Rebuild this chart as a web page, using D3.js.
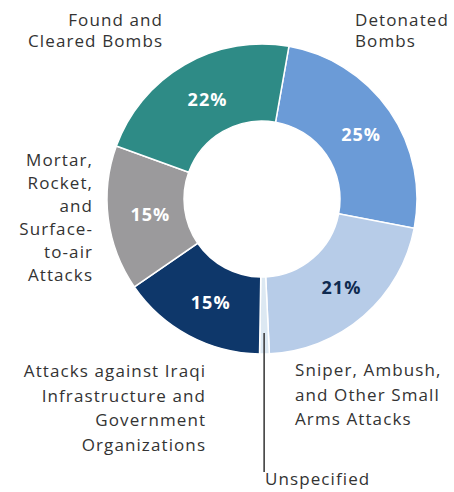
<!DOCTYPE html>
<html><head><meta charset="utf-8">
<script src="https://cdn.jsdelivr.net/npm/d3@7"></script>
<style>
html,body{margin:0;padding:0;background:#fff;}
svg{display:block;}
text{font-family:"Open Sans",sans-serif;}
</style></head>
<body>
<svg id="chart" width="454" height="492"></svg>
<script>
const categories = ["Detonated Bombs","Sniper, Ambush, and Other Small Arms Attacks","Unspecified","Attacks against Iraqi Infrastructure and Government Organizations","Mortar, Rocket, and Surface-to-air Attacks","Found and Cleared Bombs"];
const values = [25, 21, 1, 15, 15, 22];
const pctLabels = ["25%","21%","","15%","15%","22%"];
const colors = ["#6b9bd7","#b7cce8","#dce8f2","#0e376a","#9b9a9c","#2e8b86"];
const pctColors = ["#ffffff","#0e2a50","#ffffff","#ffffff","#ffffff","#ffffff"];
const labelLines = [
  ["Detonated","Bombs"],
  ["Sniper, Ambush,","and Other Small","Arms Attacks"],
  ["Unspecified"],
  ["Attacks against Iraqi","Infrastructure and","Government","Organizations"],
  ["Mortar,","Rocket,","and","Surface-","to-air","Attacks"],
  ["Found and","Cleared Bombs"]
];

const svg = d3.select("#chart");
const cx = 262, cy = 199, R = 155, r0 = 78;
const start = 10 * Math.PI / 180;
const pie = d3.pie().sort(null).value(d => d).startAngle(start).endAngle(start + 2 * Math.PI);
const arcs = pie(values);
const arc = d3.arc().innerRadius(r0).outerRadius(R);
const labelArc = d3.arc().innerRadius(116).outerRadius(116);

const g = svg.append("g").attr("transform", `translate(${cx},${cy})`);
g.selectAll("path.slice").data(arcs).join("path")
  .attr("class","slice")
  .attr("d", arc)
  .attr("fill", (d,i) => colors[i])
  .attr("stroke", "#ffffff")
  .attr("stroke-width", 1.5);

const ls = 1;
g.selectAll("text.pct").data(arcs).join("text")
  .attr("class","pct")
  .attr("transform", d => { const c = labelArc.centroid(d); return `translate(${c[0] + 3 + ls/2},${c[1] + 1})`; })
  .attr("text-anchor","middle")
  .attr("dy","0.36em")
  .attr("fill", (d,i) => pctColors[i])
  .style("font-size","18px")
  .style("font-weight","bold")
  .style("letter-spacing", ls + "px")
  .text((d,i) => pctLabels[i]);

// leader line for Unspecified
const u = arcs[2];
const um = (u.startAngle + u.endAngle) / 2;
const ux = cx + Math.sin(um) * 134;
svg.append("line")
  .attr("x1", ux).attr("x2", ux)
  .attr("y1", cy - Math.cos(um) * 134).attr("y2", 472)
  .attr("stroke", "#333").attr("stroke-width", 1.5);

// category labels
const tls = 1.1;
const labelPos = [
  {x:355, y:19.5, anchor:"start", lh:21.5},
  {x:295, y:370, anchor:"start", lh:24.5},
  {x:265, y:479, anchor:"start", lh:22},
  {x:205, y:371, anchor:"end", lh:24.5},
  {x:92, y:160, anchor:"end", lh:23},
  {x:162, y:19.5, anchor:"end", lh:21.5}
];
labelLines.forEach((lines, i) => {
  const p = labelPos[i];
  const t = svg.append("text")
    .attr("text-anchor", p.anchor)
    .attr("fill", "#333")
    .style("font-size", "17px")
    .style("letter-spacing", tls + "px");
  const xx = p.anchor === "end" ? p.x + tls : p.x;
  lines.forEach((ln, j) => {
    t.append("tspan").attr("x", xx).attr("y", p.y + j * p.lh).attr("dy","0.36em").text(ln);
  });
});
</script>
</body></html>
